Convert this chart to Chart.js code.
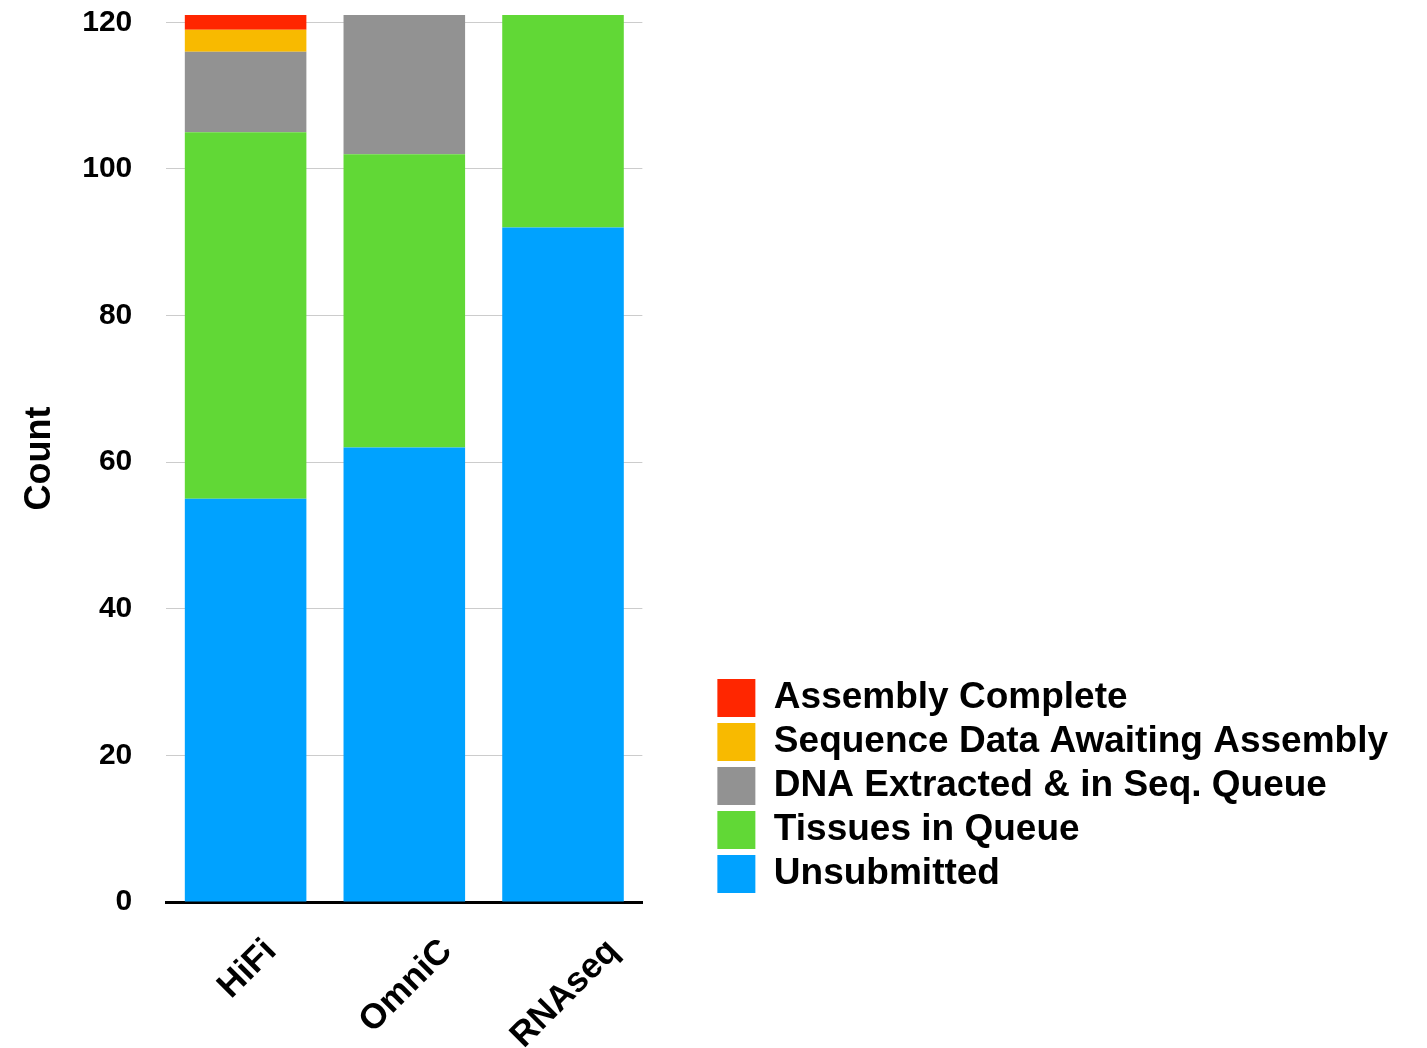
<!DOCTYPE html>
<html>
<head>
<meta charset="utf-8">
<script src="https://cdn.jsdelivr.net/npm/chart.js@4/dist/chart.umd.min.js"></script>
<style>
  html, body { margin: 0; padding: 0; background: #ffffff; }
  #wrap { width: 1427px; height: 1048px; position: relative; }
</style>
</head>
<body>
<div id="wrap"><canvas id="c" width="1427" height="1048"></canvas></div>
<script>
// Sample pipeline progress per data type
const categories = ['HiFi', 'OmniC', 'RNAseq'];

const unsubmitted   = [55, 62, 92];
const tissuesQueue  = [50, 40, 29];
const dnaExtracted  = [11, 19, 0];
const seqAwaiting   = [3, 0, 0];
const assemblyDone  = [2, 0, 0];

const yTicks = [0, 20, 40, 60, 80, 100, 120];

const FONT = '"Liberation Sans", Arial, Helvetica, sans-serif';

// Rotated category labels, centred under each bar
const xLabelPlugin = {
  id: 'xLabels',
  afterDraw(chart) {
    const ctx = chart.ctx;
    const xs = chart.scales.x;
    const size = 35;
    const capH = size * 0.716;
    ctx.save();
    ctx.font = 'bold ' + size + 'px ' + FONT;
    ctx.fillStyle = '#000000';
    ctx.textAlign = 'right';
    ctx.textBaseline = 'alphabetic';
    categories.forEach((label, i) => {
      const cx = xs.getPixelForValue(i);
      const L = ctx.measureText(label).width;
      const ax = cx + 0.3536 * (L + capH);
      const ay = chart.chartArea.bottom + 33 + 0.707 * capH;
      ctx.save();
      ctx.translate(ax, ay);
      ctx.rotate(-Math.PI / 4);
      ctx.fillText(label, 0, 0);
      ctx.restore();
    });
    ctx.restore();
  }
};

// Keep the legend a fixed gap to the right of the plot, bottom-aligned
const legendPlace = {
  id: 'legendPlace',
  afterLayout(chart) {
    const lg = chart.legend;
    const ca = chart.chartArea;
    const w = lg.width, h = lg.height;
    lg.left = ca.right + 69;
    lg.right = lg.left + w;
    lg.bottom = ca.bottom - 3;
    lg.top = lg.bottom - h;
  }
};

new Chart(document.getElementById('c'), {
  type: 'bar',
  data: {
    labels: categories,
    datasets: [
      { label: 'Unsubmitted', data: unsubmitted, backgroundColor: '#00A2FF' },
      { label: 'Tissues in Queue', data: tissuesQueue, backgroundColor: '#61D836' },
      { label: 'DNA Extracted & in Seq. Queue', data: dnaExtracted, backgroundColor: '#929292' },
      { label: 'Sequence Data Awaiting Assembly', data: seqAwaiting, backgroundColor: '#F8BA00' },
      { label: 'Assembly Complete', data: assemblyDone, backgroundColor: '#FF2600' }
    ]
  },
  options: {
    responsive: false,
    animation: false,
    maintainAspectRatio: false,
    datasets: {
      bar: { barPercentage: 0.766, categoryPercentage: 1.0, borderWidth: 0 }
    },
    layout: { padding: { top: 14, left: 18, right: 98, bottom: 146 } },
    plugins: {
      tooltip: { enabled: false },
      legend: {
        position: 'right',
        align: 'end',
        reverse: true,
        maxWidth: 760,
        labels: {
          boxWidth: 38,
          boxHeight: 38,
          padding: 6,
          color: '#000000',
          font: { family: FONT, size: 37, weight: 'bold' }
        }
      }
    },
    scales: {
      x: {
        stacked: true,
        grid: { display: false, drawTicks: false },
        border: { display: true, color: '#000000', width: 3 },
        ticks: { display: false }
      },
      y: {
        stacked: true,
        min: 0,
        max: 121,
        afterBuildTicks(scale) {
          scale.ticks = yTicks.map(v => ({ value: v }));
        },
        grid: {
          color: '#cccccc',
          lineWidth: 1,
          drawTicks: true,
          tickLength: 34,
          tickColor: 'rgba(0,0,0,0)'
        },
        border: { display: false },
        ticks: {
          padding: 0,
          color: '#000000',
          font: { family: FONT, size: 30, weight: 'bold', lineHeight: 1 }
        },
        title: {
          display: true,
          text: 'Count',
          color: '#000000',
          padding: { top: 0, bottom: 21 },
          font: { family: FONT, size: 36, weight: 'bold' }
        }
      }
    }
  },
  plugins: [xLabelPlugin, legendPlace]
});
</script>
</body>
</html>
